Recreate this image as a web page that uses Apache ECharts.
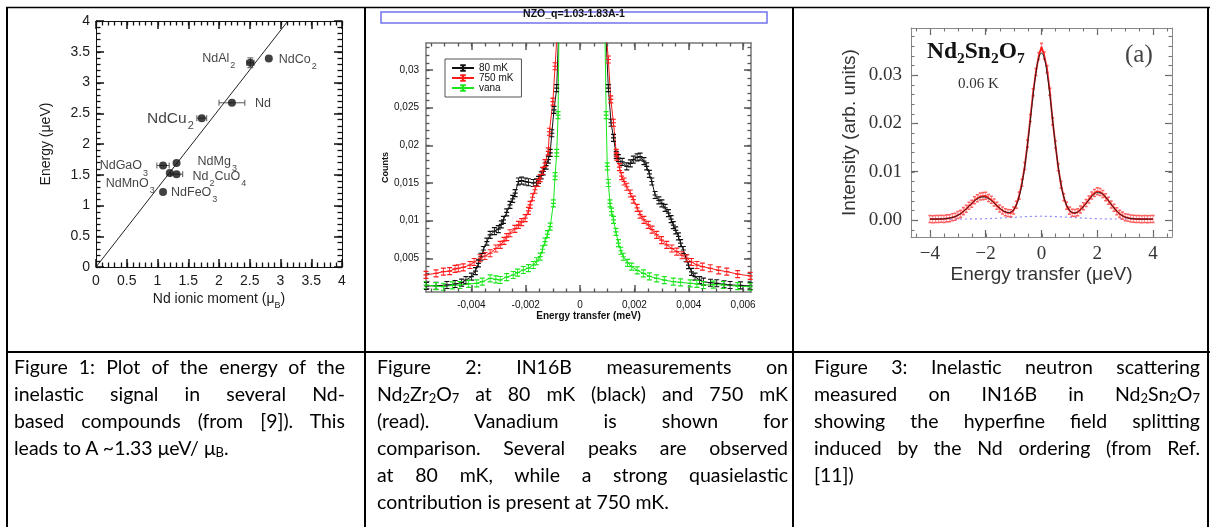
<!DOCTYPE html>
<html><head><meta charset="utf-8">
<script src="https://cdn.jsdelivr.net/npm/echarts@6.0.0/dist/echarts.min.js"></script>
<style>
html,body{margin:0;padding:0;background:#fff;overflow:hidden;}
#chart{position:absolute;left:0;top:0;width:1210px;height:527px;}
.cap{position:absolute;top:353px;font-family:Lato,'Liberation Sans',sans-serif;font-size:19.5px;line-height:27px;color:#000;}
.cap .j{text-align:justify;text-align-last:justify;}
.cap .l{text-align:left;}
.cap sub{font-size:13px;line-height:0;vertical-align:-2px;}
</style></head><body>
<div id="chart"></div>
<div class="cap" style="left:14px;width:331px">
<div class="j">Figure 1: Plot of the energy of the</div>
<div class="j">inelastic signal in several Nd-</div>
<div class="j">based compounds (from [9]). This</div>
<div class="l">leads to A ~1.33 μeV/ μ<sub>B</sub>.</div>
</div>
<div class="cap" style="left:377px;width:411px">
<div class="j">Figure 2: IN16B measurements on</div>
<div class="j">Nd<sub>2</sub>Zr<sub>2</sub>O<sub>7</sub> at 80&nbsp;mK (black) and 750 mK</div>
<div class="j">(read). Vanadium is shown for</div>
<div class="j">comparison. Several peaks are observed</div>
<div class="j">at 80 mK, while a strong quasielastic</div>
<div class="l">contribution is present at 750 mK.</div>
</div>
<div class="cap" style="left:814px;width:386px">
<div class="j">Figure 3: Inelastic neutron scattering</div>
<div class="j">measured on IN16B in Nd<sub>2</sub>Sn<sub>2</sub>O<sub>7</sub></div>
<div class="j">showing the hyperfine field splitting</div>
<div class="j">induced by the Nd ordering (from Ref.</div>
<div class="l">[11])</div>
</div>
<script>
// ---------- Figure 1 data ----------
const compounds = ['NdAl2','NdCo2','Nd','NdCu2','NdGaO3','NdMg3','NdMnO3','Nd2CuO4','NdFeO3'];
const compoundLabels = ['{m|NdAl}{s|2}','{m|NdCo}{s|2}','{m|Nd}','{b|NdCu}{t|2}','{m|NdGaO}{s|3}','{m|NdMg}{s|3}','{m|NdMnO}{s|3}','{m|Nd}{s|2}{m|CuO}{s|4}','{m|NdFeO}{s|3}'];
const ndMoment = [2.51, 2.81, 2.21, 1.72, 1.09, 1.31, 1.20, 1.31, 1.09];
const ndEnergy = [3.32, 3.39, 2.67, 2.42, 1.65, 1.69, 1.53, 1.51, 1.22];
const ndMomentErr = [0.06, 0, 0.21, 0.08, 0.1, 0, 0, 0.1, 0];
const ndEnergyErr = [0.08, 0, 0, 0, 0, 0, 0, 0, 0];
const fitLine = [[0, 0], [3.12, 4]];
const fig1Ticks = [0, 0.5, 1, 1.5, 2, 2.5, 3, 3.5, 4];
const fig1TickLabels = ['0', '0.5', '1', '1.5', '2', '2.5', '3', '3.5', '4'];

// ---------- Figure 2 data ----------
const nzo80 = [[-0.00565,0.00132],[-0.0053,0.00135],[-0.0049,0.00145],[-0.0046,0.00158],[-0.00436,0.00176],[-0.0042,0.0021],[-0.004,0.00255],[-0.00385,0.0033],[-0.00374,0.00433],[-0.00365,0.0052],[-0.00356,0.0061],[-0.00343,0.0072],[-0.00331,0.0081],[-0.00315,0.0086],[-0.00301,0.00886],[-0.0029,0.0095],[-0.00282,0.0101],[-0.0027,0.0111],[-0.00258,0.0121],[-0.00248,0.0129],[-0.00239,0.01364],[-0.00227,0.0152],[-0.00215,0.0153],[-0.00202,0.0152],[-0.0019,0.0151],[-0.00172,0.0150],[-0.0016,0.0151],[-0.00153,0.0154],[-0.00143,0.016],[-0.00135,0.01652],[-0.00125,0.0173],[-0.00117,0.0181],[-0.0011,0.019],[-0.00104,0.0216],[-0.00096,0.0247],[-0.00086,0.0276],[-0.0008,0.034],[-0.0005,0.06],[0,0.1],[0.0005,0.06],[0.00096,0.034],[0.00104,0.0276],[0.00114,0.023],[0.00123,0.021],[0.00133,0.01874],[0.00141,0.0183],[0.00155,0.0178],[0.00172,0.0172],[0.00185,0.0176],[0.00196,0.0181],[0.0021,0.0184],[0.00221,0.0185],[0.00235,0.0179],[0.00245,0.0172],[0.00255,0.0162],[0.00264,0.0152],[0.00276,0.0134],[0.0029,0.0127],[0.00301,0.0123],[0.00313,0.0117],[0.00325,0.011],[0.00335,0.0102],[0.00343,0.0094],[0.00352,0.0087],[0.00362,0.0079],[0.0037,0.007],[0.0038,0.0061],[0.0039,0.005],[0.00399,0.0041],[0.0041,0.0032],[0.00423,0.00255],[0.0044,0.0021],[0.00454,0.00189],[0.0048,0.00175],[0.00503,0.00168],[0.0053,0.00155],[0.00552,0.00145],[0.0059,0.0014],[0.00626,0.00132]];
const nzo750 = [[-0.00567,0.0028],[-0.0053,0.0030],[-0.00503,0.00322],[-0.0048,0.0033],[-0.0046,0.0036],[-0.00448,0.00367],[-0.0043,0.0038],[-0.00405,0.00411],[-0.0039,0.0045],[-0.00368,0.005],[-0.0035,0.0053],[-0.00331,0.00567],[-0.0031,0.0063],[-0.00294,0.00677],[-0.0028,0.0073],[-0.0027,0.0078],[-0.00258,0.00832],[-0.0024,0.0089],[-0.00227,0.00943],[-0.00215,0.0098],[-0.00202,0.01032],[-0.0019,0.0113],[-0.00184,0.0121],[-0.00175,0.0131],[-0.00166,0.0141],[-0.00155,0.015],[-0.00147,0.01564],[-0.00138,0.0166],[-0.00129,0.01763],[-0.00117,0.0192],[-0.00113,0.0218],[-0.001,0.0258],[-0.00092,0.0305],[-0.00086,0.034],[-0.0005,0.06],[0,0.1],[0.0005,0.06],[0.00098,0.034],[0.00104,0.0314],[0.00113,0.0261],[0.00123,0.023],[0.00133,0.019],[0.00135,0.0185],[0.00145,0.0171],[0.00153,0.0159],[0.00162,0.0152],[0.00172,0.0145],[0.00185,0.0136],[0.00196,0.0128],[0.0021,0.0117],[0.00221,0.0108],[0.00235,0.0101],[0.00251,0.00943],[0.00265,0.0088],[0.00282,0.0081],[0.003,0.0074],[0.00319,0.00677],[0.00338,0.0063],[0.00356,0.00588],[0.00375,0.0054],[0.00393,0.005],[0.0041,0.0045],[0.0043,0.00411],[0.0045,0.0039],[0.00479,0.00367],[0.0051,0.0034],[0.0054,0.00322],[0.0058,0.0029],[0.00626,0.00265]];
const nzoVana = [[-0.00567,0.00145],[-0.0053,0.0013],[-0.00503,0.00122],[-0.0047,0.0014],[-0.00442,0.00145],[-0.0041,0.0016],[-0.0038,0.00167],[-0.0036,0.0019],[-0.00331,0.00234],[-0.0031,0.0022],[-0.00294,0.00211],[-0.0027,0.0025],[-0.00246,0.00278],[-0.0023,0.0031],[-0.00209,0.00344],[-0.0019,0.0037],[-0.00172,0.00411],[-0.0016,0.0046],[-0.00147,0.00522],[-0.00138,0.0062],[-0.00129,0.00721],[-0.0012,0.0082],[-0.0011,0.0092],[-0.00098,0.0123],[-0.00092,0.0159],[-0.00086,0.019],[-0.00081,0.024],[-0.00078,0.034],[-0.0005,0.07],[0,0.12],[0.0005,0.07],[0.00092,0.034],[0.00096,0.024],[0.001,0.0172],[0.00104,0.015],[0.0011,0.0123],[0.00116,0.0112],[0.00123,0.0101],[0.00132,0.0085],[0.00141,0.007],[0.0015,0.006],[0.00159,0.0052],[0.00175,0.0044],[0.0019,0.00389],[0.0021,0.0034],[0.00233,0.003],[0.00255,0.0026],[0.00282,0.00234],[0.0031,0.0021],[0.00343,0.00189],[0.0037,0.0018],[0.00405,0.00167],[0.0043,0.0016],[0.00454,0.00145],[0.0049,0.0015],[0.00527,0.00145],[0.0058,0.0013],[0.00626,0.00122]];
const fig2XTicks = [-0.004, -0.002, 0, 0.002, 0.004, 0.006];
const fig2XTickLabels = ['-0,004', '-0,002', '0', '0,002', '0,004', '0,006'];
const fig2YTicks = [0.005, 0.01, 0.015, 0.02, 0.025, 0.03];
const fig2YTickLabels = ['0,005', '0,01', '0,015', '0,02', '0,025', '0,03'];

// ---------- Figure 3 data ----------
const fig3Energy = [-4,-3.9,-3.8,-3.7,-3.6,-3.5,-3.4,-3.3,-3.2,-3.1,-3,-2.9,-2.8,-2.7,-2.6,-2.5,-2.4,-2.3,-2.2,-2.1,-2,-1.9,-1.8,-1.7,-1.6,-1.5,-1.4,-1.3,-1.2,-1.1,-1,-0.9,-0.8,-0.7,-0.6,-0.5,-0.4,-0.3,-0.2,-0.1,0,0.1,0.2,0.3,0.4,0.5,0.6,0.7,0.8,0.9,1,1.1,1.2,1.3,1.4,1.5,1.6,1.7,1.8,1.9,2,2.1,2.2,2.3,2.4,2.5,2.6,2.7,2.8,2.9,3,3.1,3.2,3.3,3.4,3.5,3.6,3.7,3.8,3.9,4];
const fig3Measured = [0.00022,0.00019,0.00024,0.00020,0.00025,0.00023,0.00035,0.00038,0.00058,0.00068,0.00105,0.00128,0.00185,0.00232,0.00295,0.00338,0.00410,0.00452,0.00488,0.00495,0.00502,0.00455,0.00418,0.00365,0.00296,0.00241,0.00198,0.00162,0.00148,0.00142,0.00200,0.00318,0.00505,0.00772,0.01118,0.01580,0.02110,0.02640,0.03060,0.03390,0.03580,0.03400,0.03120,0.02650,0.02040,0.01560,0.01090,0.00730,0.00470,0.00295,0.00195,0.00150,0.00145,0.00162,0.00220,0.00285,0.00352,0.00425,0.00510,0.00560,0.00595,0.00580,0.00540,0.00470,0.00398,0.00322,0.00255,0.00180,0.00128,0.00092,0.00060,0.00046,0.00031,0.00027,0.00021,0.00024,0.00019,0.00022,0.00018,0.00021,0.00020];
const fig3Fit = [0.0002,0.0002,0.00021,0.00022,0.00023,0.00026,0.00031,0.0004,0.00053,0.00071,0.00099,0.00133,0.00176,0.00228,0.00284,0.00341,0.00393,0.00437,0.00465,0.00477,0.00468,0.00443,0.00402,0.00352,0.00299,0.00248,0.00203,0.00171,0.00157,0.00167,0.00215,0.00315,0.00486,0.00746,0.01105,0.01556,0.02068,0.02584,0.03034,0.03341,0.0345,0.03341,0.03034,0.02584,0.02069,0.01555,0.01103,0.00743,0.00481,0.00308,0.00206,0.00158,0.00149,0.00169,0.00211,0.00271,0.00341,0.00416,0.00484,0.00537,0.00564,0.00563,0.00532,0.00476,0.00405,0.00327,0.00251,0.00185,0.00131,0.00091,0.00063,0.00044,0.00033,0.00026,0.00023,0.00021,0.0002,0.0002,0.0002,0.0002,0.0002];
const fig3BgEnergy = [-4,-3.5,-3,-2.5,-2,-1.5,-1,-0.5,0,0.5,1,1.5,2,2.5,3,3.5,4];
const fig3Bg = [0.0002,0.0002,0.00021,0.00023,0.00028,0.0004,0.00056,0.00073,0.0008,0.00073,0.00056,0.0004,0.00028,0.00023,0.00021,0.0002,0.0002];
const fig3XTicks = [-4, -2, 0, 2, 4];
const fig3XTickLabels = ['\u22124', '\u22122', '0', '2', '4'];
const fig3YTicks = [0, 0.01, 0.02, 0.03];
const fig3YTickLabels = ['0.00', '0.01', '0.02', '0.03'];

// ---------- helpers ----------
const SANS = "'Liberation Sans', Arial, sans-serif";
const SERIF = "'Liberation Serif', 'Times New Roman', serif";
function steps(a, b, s) { const r = []; const n = Math.round((b - a) / s); for (let i = 0; i <= n; i++) r.push(+(a + i * s).toFixed(7)); return r; }
function fmtFrom(vals, labels) { return v => { const i = vals.findIndex(t => Math.abs(t - v) < 1e-9); return i < 0 ? '' : labels[i]; }; }
// main axis (line, labels, major ticks inward) + opposite axis (line, major ticks inward)
function axisSet(o) {
  const isX = o.dim === 'x';
  const mk = (pos, main) => ({
    type: 'value', gridIndex: o.grid, min: o.min, max: o.max, position: pos,
    splitLine: { show: false }, axisPointer: { show: false },
    axisLine: { show: true, onZero: false, lineStyle: { color: o.lineColor, width: o.lineWidth } },
    axisTick: { show: true, inside: true, length: o.majorLen, customValues: o.major, lineStyle: { color: o.tickColor, width: o.tickWidth } },
    minorTick: { show: false },
    axisLabel: main ? Object.assign({ show: true, customValues: o.major, formatter: fmtFrom(o.major, o.labels), margin: o.labelMargin }, o.labelStyle) : { show: false },
    name: main ? o.name : '', nameLocation: 'middle', nameGap: o.nameGap || 20, nameTextStyle: o.nameTextStyle || {}
  });
  return [mk(isX ? 'bottom' : 'left', true), mk(isX ? 'top' : 'right', false)];
}

// ---------- axes ----------
const R1x = [0, 4], R1y = [0, 4];
const R2x = [-0.00567, 0.00629], R2y = [0.00052, 0.03359];
const R3x = [-4.68, 4.68], R3y = [-0.0035, 0.0397];
const lab1 = { fontFamily: SANS, fontSize: 14, color: '#1a1a1a' };
const xAxes = [].concat(
  axisSet({ dim: 'x', grid: 0, min: R1x[0], max: R1x[1], major: fig1Ticks, labels: fig1TickLabels, lineColor: '#111', tickColor: '#111', tickWidth: 1.5, majorLen: 8, lineWidth: 1, labelMargin: 7, labelStyle: lab1,
    name: '{a|Nd ionic moment (μ}{b|B}{a|)}', nameGap: 25, nameTextStyle: { rich: { a: { fontFamily: SANS, fontSize: 14, color: '#1a1a1a', lineHeight: 16, verticalAlign: 'top' }, b: { fontFamily: SANS, fontSize: 9, color: '#1a1a1a', lineHeight: 9, padding: [9, 0, 0, 0], verticalAlign: 'top' } } } }),
  axisSet({ dim: 'x', grid: 1, min: R2x[0], max: R2x[1], major: fig2XTicks, labels: fig2XTickLabels, lineColor: '#777', tickColor: '#555', tickWidth: 1.5, majorLen: 7, lineWidth: 1.5, labelMargin: 8, labelStyle: { fontFamily: SANS, fontSize: 10, color: '#111' },
    name: 'Energy transfer (meV)', nameGap: 14, nameTextStyle: { fontFamily: SANS, fontSize: 10, fontWeight: 'bold', color: '#111' } }),
  axisSet({ dim: 'x', grid: 2, min: R3x[0], max: R3x[1], major: fig3XTicks, labels: fig3XTickLabels, lineColor: '#888', tickColor: '#666', tickWidth: 1.2, majorLen: 7, lineWidth: 1, labelMargin: 8, labelStyle: { fontFamily: SERIF, fontSize: 19, color: '#333' },
    name: 'Energy transfer (μeV)', nameGap: 27, nameTextStyle: { fontFamily: SANS, fontSize: 19, color: '#333' } })
);
const yAxes = [].concat(
  axisSet({ dim: 'y', grid: 0, min: R1y[0], max: R1y[1], major: fig1Ticks, labels: fig1TickLabels, lineColor: '#111', tickColor: '#111', tickWidth: 1.5, majorLen: 8, lineWidth: 1, labelMargin: 6, labelStyle: lab1,
    name: 'Energy (μeV)', nameGap: 43, nameTextStyle: { fontFamily: SANS, fontSize: 14, color: '#1a1a1a' } }),
  axisSet({ dim: 'y', grid: 1, min: R2y[0], max: R2y[1], major: fig2YTicks, labels: fig2YTickLabels, lineColor: '#777', tickColor: '#555', tickWidth: 1.5, majorLen: 7, lineWidth: 1.5, labelMargin: 7, labelStyle: { fontFamily: SANS, fontSize: 10, color: '#111' },
    name: 'Counts', nameGap: 36, nameTextStyle: { fontFamily: SANS, fontSize: 9, fontWeight: 'bold', color: '#111' } }),
  axisSet({ dim: 'y', grid: 2, min: R3y[0], max: R3y[1], major: fig3YTicks, labels: fig3YTickLabels, lineColor: '#888', tickColor: '#666', tickWidth: 1.2, majorLen: 7, lineWidth: 1, labelMargin: 9, labelStyle: { fontFamily: SERIF, fontSize: 19, color: '#333' },
    name: 'Intensity (arb. units)', nameGap: 52, nameTextStyle: { fontFamily: SANS, fontSize: 19, color: '#333' } })
);

// ---------- series ----------
const labelPlacement = {
  NdAl2: ['left', 11, -4], NdCo2: ['right', 6, 2], Nd: ['right', 19, 1], NdCu2: ['left', 4, 1],
  NdGaO3: ['left', 11, 1], NdMg3: ['right', 17, -1], NdMnO3: ['left', 11, 11], Nd2CuO4: ['right', 12, 3], NdFeO3: ['right', 4, 1]
};
const LC = '#111';
const richLab = {
  m: { fontFamily: SANS, fontSize: 12.5, color: LC, lineHeight: 14, verticalAlign: 'top' },
  s: { fontFamily: SANS, fontSize: 9, color: LC, lineHeight: 9, padding: [9, 0, 0, 1], verticalAlign: 'top' },
  b: { fontFamily: SANS, fontSize: 15.5, color: LC, lineHeight: 17, verticalAlign: 'top' },
  t: { fontFamily: SANS, fontSize: 11, color: LC, lineHeight: 11, padding: [10, 0, 0, 1], verticalAlign: 'top' }
};
const pointData = compounds.map((n, i) => {
  const p = labelPlacement[n];
  return { name: n, value: [ndMoment[i], ndEnergy[i]],
    label: { show: true, formatter: compoundLabels[i], position: p[0], distance: p[1], offset: [0, p[2]], rich: richLab } };
});
const errData = compounds.map((n, i) => [ndMoment[i], ndEnergy[i], ndMomentErr[i], ndEnergyErr[i]]);

const ebar = 'path://M0,0H4M2,0V8M0,8H4M0,4H4';
function nzoSeries(name, data, c) {
  return { name, type: 'line', xAxisIndex: 2, yAxisIndex: 2, data, color: c,
    symbol: ebar, symbolSize: [5, 7], showSymbol: true,
    itemStyle: { color: 'rgba(0,0,0,0)', borderColor: c, borderWidth: 1 },
    lineStyle: { color: c, width: 1 }, clip: true, z: 3 };
}

const tableLines = [
  { type: 'line', shape: { x1: 6, y1: 7.5, x2: 1210, y2: 7.5 }, style: { stroke: '#000', lineWidth: 1.5 }, z: 100 },
  { type: 'line', shape: { x1: 7, y1: 7, x2: 7, y2: 527 }, style: { stroke: '#000', lineWidth: 2 }, z: 100 },
  { type: 'line', shape: { x1: 365, y1: 7, x2: 365, y2: 527 }, style: { stroke: '#000', lineWidth: 2 }, z: 100 },
  { type: 'line', shape: { x1: 793, y1: 7, x2: 793, y2: 527 }, style: { stroke: '#000', lineWidth: 2 }, z: 100 },
  { type: 'line', shape: { x1: 1208, y1: 7, x2: 1208, y2: 527 }, style: { stroke: '#000', lineWidth: 2 }, z: 100 },
  { type: 'line', shape: { x1: 6, y1: 352, x2: 1210, y2: 352 }, style: { stroke: '#000', lineWidth: 2 }, z: 100 },
  { type: 'rect', shape: { x: 381, y: 12, width: 386, height: 11 }, style: { fill: 'none', stroke: '#7272f0', lineWidth: 1.5 }, z: 1 }
];

const option = {
  animation: false,
  backgroundColor: '#fff',
  grid: [
    { left: 96, top: 21, width: 246, height: 246, containLabel: false },
    { left: 426, top: 43, width: 325, height: 249, containLabel: false },
    { left: 911, top: 28, width: 261, height: 209, containLabel: false }
  ],
  xAxis: xAxes,
  yAxis: yAxes,
  title: [
    { text: '{a|Nd}{b|2}{a|Sn}{b|2}{a|O}{b|7}', left: 927, top: 40, padding: 0,
      textStyle: { rich: {
        a: { fontFamily: SERIF, fontWeight: 'bold', fontSize: 23.5, color: '#111', lineHeight: 24, verticalAlign: 'top' },
        b: { fontFamily: SERIF, fontWeight: 'bold', fontSize: 15.5, color: '#111', lineHeight: 15, padding: [11, 0, 0, 0], verticalAlign: 'top' } } } },
    { text: '0.06 K', left: 958, top: 76, padding: 0, textStyle: { fontFamily: SERIF, fontWeight: 'normal', fontSize: 15, color: '#333', lineHeight: 16 } },
    { text: '(a)', left: 1125, top: 42, padding: 0, textStyle: { fontFamily: SERIF, fontWeight: 'normal', fontSize: 25, color: '#444', lineHeight: 26 } },
    { text: 'NZO_q=1.03-1.83A-1', left: 574, top: 9, textAlign: 'center', padding: 0, z: 120, textStyle: { fontFamily: SANS, fontWeight: 'bold', fontSize: 10.5, color: '#111', lineHeight: 11 } }
  ],
  legend: {
    data: ['80 mK', '750 mK', 'vana'], left: 445, top: 59, orient: 'vertical',
    borderColor: '#555', borderWidth: 1, padding: [4, 8, 4, 6], itemGap: 0, itemWidth: 22, itemHeight: 7,
    textStyle: { fontFamily: SANS, fontSize: 10, color: '#111', lineHeight: 10 }, selectedMode: false
  },
  graphic: tableLines,
  series: [
    // Figure 1
    { type: 'line', xAxisIndex: 0, yAxisIndex: 0, data: fitLine, showSymbol: false, symbol: 'none', lineStyle: { color: '#222', width: 1 }, z: 2, silent: true },
    { type: 'custom', xAxisIndex: 0, yAxisIndex: 0, data: errData, z: 3, silent: true,
      renderItem(params, api) {
        const x = api.value(0), y = api.value(1), ex = api.value(2), ey = api.value(3);
        const ch = []; const st = { stroke: '#555', lineWidth: 1 };
        if (ex > 0) {
          const a = api.coord([x - ex, y]), b = api.coord([x + ex, y]);
          ch.push({ type: 'line', shape: { x1: a[0], y1: a[1], x2: b[0], y2: b[1] }, style: st });
          ch.push({ type: 'line', shape: { x1: a[0], y1: a[1] - 3, x2: a[0], y2: a[1] + 3 }, style: st });
          ch.push({ type: 'line', shape: { x1: b[0], y1: b[1] - 3, x2: b[0], y2: b[1] + 3 }, style: st });
        }
        if (ey > 0) {
          const a = api.coord([x, y - ey]), b = api.coord([x, y + ey]);
          ch.push({ type: 'line', shape: { x1: a[0], y1: a[1], x2: b[0], y2: b[1] }, style: st });
          ch.push({ type: 'line', shape: { x1: a[0] - 3, y1: a[1], x2: a[0] + 3, y2: a[1] }, style: st });
          ch.push({ type: 'line', shape: { x1: b[0] - 3, y1: b[1], x2: b[0] + 3, y2: b[1] }, style: st });
        }
        return { type: 'group', children: ch };
      } },
    { type: 'scatter', xAxisIndex: 0, yAxisIndex: 0, data: pointData, symbolSize: 8, itemStyle: { color: '#111' }, z: 4 },
    // Figure 2
    nzoSeries('80 mK', nzo80, '#111111'),
    nzoSeries('750 mK', nzo750, '#ff1a1a'),
    nzoSeries('vana', nzoVana, '#19e619'),
    // Figure 3
    { type: 'line', xAxisIndex: 4, yAxisIndex: 4, data: fig3BgEnergy.map((x, i) => [x, fig3Bg[i]]), showSymbol: false, symbol: 'none',
      lineStyle: { color: '#8c8cff', width: 1.2, type: [2, 3] }, z: 2 },
    { type: 'line', xAxisIndex: 4, yAxisIndex: 4, data: fig3Energy.map((x, i) => [x, fig3Measured[i]]),
      symbol: 'path://M0,0H2M1,0V8M0,8H2', symbolSize: [3, 7], showSymbol: true,
      itemStyle: { color: 'rgba(0,0,0,0)', borderColor: 'rgba(255,30,30,0.7)', borderWidth: 1 },
      lineStyle: { color: '#ff1e1e', width: 1.8 }, z: 3 },
    { type: 'line', xAxisIndex: 4, yAxisIndex: 4, data: fig3Energy.map((x, i) => [x, fig3Fit[i]]), showSymbol: false, symbol: 'none', smooth: true,
      lineStyle: { color: '#222', width: 1 }, z: 4 }
  ]
};
const chart = echarts.init(document.getElementById('chart'), null, { renderer: 'canvas' });
chart.setOption(option);

// minor inward ticks on all four sides, positioned through each grid's own axis scales
function minorTicks(ai, xr, yr, xMinor, yMinor, len, color, w) {
  const els = [];
  const px = (x, y) => chart.convertToPixel({ xAxisIndex: ai, yAxisIndex: ai }, [x, y]);
  const st = { stroke: color, lineWidth: w };
  xMinor.forEach(v => {
    const b = px(v, yr[0]), t = px(v, yr[1]);
    const x = Math.round(b[0]) + 0.5;
    els.push({ type: 'line', silent: true, z: 50, shape: { x1: x, y1: b[1], x2: x, y2: b[1] - len }, style: st });
    els.push({ type: 'line', silent: true, z: 50, shape: { x1: x, y1: t[1], x2: x, y2: t[1] + len }, style: st });
  });
  yMinor.forEach(v => {
    const l = px(xr[0], v), r = px(xr[1], v);
    const y = Math.round(l[1]) + 0.5;
    els.push({ type: 'line', silent: true, z: 50, shape: { x1: l[0], y1: y, x2: l[0] + len, y2: y }, style: st });
    els.push({ type: 'line', silent: true, z: 50, shape: { x1: r[0], y1: y, x2: r[0] - len, y2: y }, style: st });
  });
  return els;
}
try {
  const ticks = [].concat(
    minorTicks(0, R1x, R1y, steps(0, 4, 0.1), steps(0, 4, 0.1), 4.5, '#111', 1.3),
    minorTicks(2, R2x, R2y, steps(-0.0055, 0.006, 0.0005), steps(0.001, 0.033, 0.001), 3.5, '#555', 1.3),
    minorTicks(4, R3x, R3y, steps(-4.5, 4.5, 0.5), steps(-0.002, 0.038, 0.002), 3.5, '#777', 1.1)
  );
  chart.setOption({ graphic: tableLines.concat(ticks) });
} catch (e) { /* keep chart without minor ticks */ }
</script>
</body></html>
